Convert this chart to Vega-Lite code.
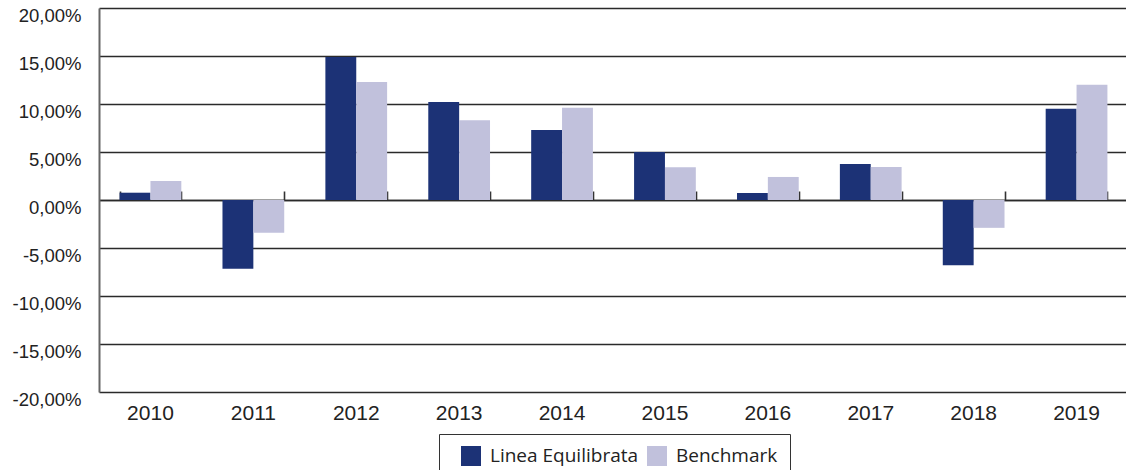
{
  "$schema": "https://vega.github.io/schema/vega-lite/v6.json",
  "autosize": {"type": "none"},
  "padding": {"left": 99, "top": 8, "right": 0, "bottom": 78},
  "width": 1029,
  "height": 384,
  "background": "white",
  "config": {"view": {"stroke": null}},
  "data": {
    "values": [
      {"year": "2010", "series": "Linea Equilibrata", "value": 0.76},
      {"year": "2010", "series": "Benchmark", "value": 1.98},
      {"year": "2011", "series": "Linea Equilibrata", "value": -7.15},
      {"year": "2011", "series": "Benchmark", "value": -3.4},
      {"year": "2012", "series": "Linea Equilibrata", "value": 14.9},
      {"year": "2012", "series": "Benchmark", "value": 12.3},
      {"year": "2013", "series": "Linea Equilibrata", "value": 10.2},
      {"year": "2013", "series": "Benchmark", "value": 8.3},
      {"year": "2014", "series": "Linea Equilibrata", "value": 7.3},
      {"year": "2014", "series": "Benchmark", "value": 9.6},
      {"year": "2015", "series": "Linea Equilibrata", "value": 5.0},
      {"year": "2015", "series": "Benchmark", "value": 3.4},
      {"year": "2016", "series": "Linea Equilibrata", "value": 0.73},
      {"year": "2016", "series": "Benchmark", "value": 2.4},
      {"year": "2017", "series": "Linea Equilibrata", "value": 3.75},
      {"year": "2017", "series": "Benchmark", "value": 3.45},
      {"year": "2018", "series": "Linea Equilibrata", "value": -6.8},
      {"year": "2018", "series": "Benchmark", "value": -2.9},
      {"year": "2019", "series": "Linea Equilibrata", "value": 9.5},
      {"year": "2019", "series": "Benchmark", "value": 12.0}
    ]
  },
  "resolve": {"axis": {"x": "independent"}},
  "layer": [
    {
      "mark": {"type": "bar", "opacity": 0},
      "encoding": {
        "x": {
          "field": "year",
          "type": "nominal",
          "scale": {"paddingInner": 0.4, "paddingOuter": 0.2},
          "axis": {
            "orient": "top",
            "offset": -192,
            "title": null,
            "labels": false,
            "ticks": true,
            "tickBand": "extent",
            "tickSize": 9,
            "tickColor": "#333",
            "tickWidth": 1.6,
            "domain": true,
            "domainColor": "#2a2a2a",
            "domainWidth": 1.3,
            "grid": false
          }
        },
        "y": {"field": "value", "type": "quantitative", "scale": {"domain": [-20, 20], "nice": false}}
      }
    },
    {
      "mark": {"type": "bar"},
      "encoding": {
        "x": {
          "field": "year",
          "type": "nominal",
          "scale": {"paddingInner": 0.4, "paddingOuter": 0.2},
          "axis": {
            "orient": "bottom",
            "title": null,
            "labelAngle": 0,
            "labelFont": "Liberation Sans",
            "labelFontSize": 21,
            "labelColor": "#222",
            "labelPadding": 10,
            "ticks": false,
            "domain": false,
            "grid": false
          }
        },
        "xOffset": {"field": "series", "type": "nominal", "sort": ["Linea Equilibrata", "Benchmark"]},
        "y": {
          "field": "value",
          "type": "quantitative",
          "scale": {"domain": [-20, 20], "nice": false},
          "axis": {
            "title": null,
            "values": [-20, -15, -10, -5, 0, 5, 10, 15, 20],
            "labelExpr": "replace(replace(format(datum.value, '.2f'), '.', ','), '−', '-') + '%'",
            "labelFont": "Liberation Sans",
            "labelFontSize": 18.5,
            "labelColor": "#222",
            "labelPadding": 18,
            "labelOffset": 7,
            "ticks": false,
            "grid": true,
            "gridColor": "#2a2a2a",
            "gridWidth": 1.3,
            "domain": true,
            "domainColor": "#666",
            "domainWidth": 2
          }
        },
        "color": {
          "field": "series",
          "type": "nominal",
          "sort": ["Linea Equilibrata", "Benchmark"],
          "scale": {"domain": ["Linea Equilibrata", "Benchmark"], "range": ["#1c3276", "#c1c1dc"]},
          "legend": {
            "title": " ",
            "titleOrient": "left",
            "titleFontSize": 1,
            "titlePadding": 10,
            "orient": "none",
            "legendX": 340,
            "legendY": 426,
            "direction": "horizontal",
            "padding": 12,
            "strokeColor": "#333",
            "fillColor": "white",
            "symbolType": "square",
            "symbolSize": 400,
            "symbolStrokeWidth": 0,
            "symbolOpacity": 1,
            "labelFont": "Open Sans",
            "labelFontSize": 19,
            "labelColor": "#222",
            "labelOffset": 9,
            "columnPadding": 8
          }
        }
      }
    }
  ]
}
